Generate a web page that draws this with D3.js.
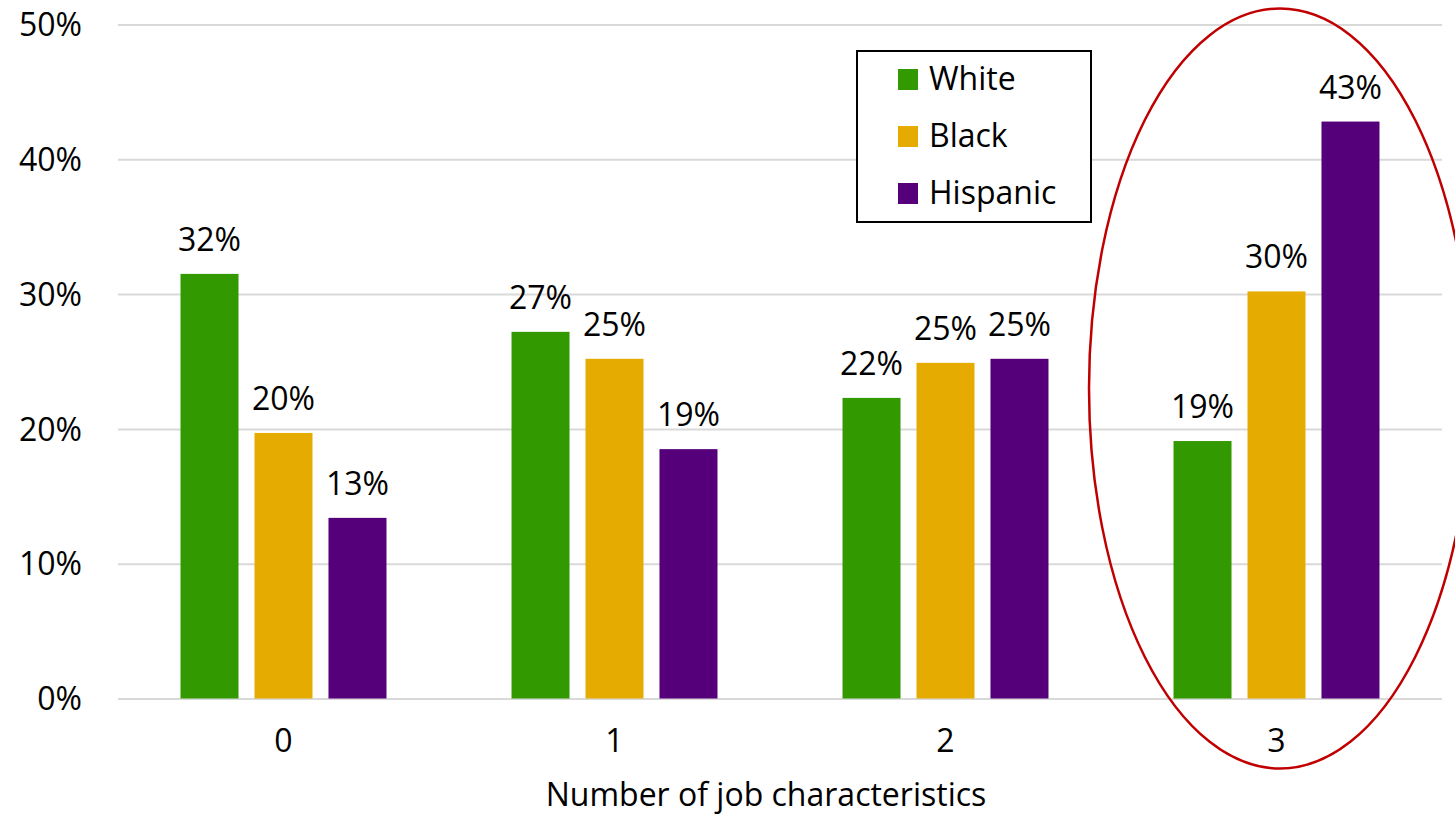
<!DOCTYPE html>
<html>
<head>
<meta charset="utf-8">
<script src="https://cdn.jsdelivr.net/npm/d3@7"></script>
<style>
  html, body { margin: 0; padding: 0; background: #ffffff; }
  svg { display: block; }
  text { font-family: "Open Sans", "Noto Sans", sans-serif; fill: #000; }
</style>
</head>
<body>
<svg id="chart" width="1455" height="816"></svg>
<script>
const categories = ["0", "1", "2", "3"];
const seriesNames = ["White", "Black", "Hispanic"];
const whiteValues = [31.5, 27.2, 22.3, 19.1];
const blackValues = [19.7, 25.2, 24.9, 30.2];
const hispanicValues = [13.4, 18.5, 25.2, 42.8];
const seriesColors = ["#339900", "#E6AB00", "#55007A"];
const yTicks = [0, 10, 20, 30, 40, 50];
const xTitle = "Number of job characteristics";

const seriesValues = [whiteValues, blackValues, hispanicValues];
const data = categories.map((c, i) => ({
  cat: c,
  vals: seriesNames.map((s, j) => ({ series: s, value: seriesValues[j][i], color: seriesColors[j] }))
}));

const FS = 32;
const svg = d3.select("#chart");
const plotLeft = 118, plotRight = 1442, plotTop = 24.5, plotBottom = 698.5;

const x0 = d3.scaleBand().domain(categories).range([plotLeft, plotRight]).paddingInner(0).paddingOuter(0);
const x1 = d3.scaleBand().domain(seriesNames).range([0, x0.bandwidth()]).paddingInner(0.216).paddingOuter(0.845);
const y = d3.scaleLinear().domain([0, 50]).range([plotBottom, plotTop]);

// gridlines
const yAxis = d3.axisLeft(y).tickValues(yTicks).tickSize(-(plotRight - plotLeft)).tickFormat(d => d + "%").tickPadding(36);
const gy = svg.append("g").attr("transform", `translate(${plotLeft},0)`).call(yAxis);
gy.select(".domain").remove();
gy.selectAll(".tick line").attr("stroke", "#d9d9d9").attr("stroke-width", 2);
gy.selectAll(".tick text").attr("font-size", FS).attr("font-family", "Open Sans").attr("fill", "#000").attr("dy", "0.35em");

// x axis labels
const xAxis = d3.axisBottom(x0).tickSize(0).tickPadding(31);
const gx = svg.append("g").attr("transform", `translate(0,${plotBottom})`).call(xAxis);
gx.select(".domain").remove();
gx.selectAll(".tick text").attr("font-size", FS).attr("font-family", "Open Sans").attr("fill", "#000");

// bars
const groups = svg.append("g").selectAll("g").data(data).join("g")
  .attr("transform", d => `translate(${x0(d.cat)},0)`);
groups.selectAll("rect").data(d => d.vals).join("rect")
  .attr("x", d => x1(d.series))
  .attr("width", x1.bandwidth())
  .attr("y", d => y(d.value))
  .attr("height", d => y(0) - y(d.value))
  .attr("fill", d => d.color);
groups.selectAll("text.lbl").data(d => d.vals).join("text")
  .attr("class", "lbl")
  .attr("x", d => x1(d.series) + x1.bandwidth() / 2)
  .attr("y", d => y(d.value) - 23)
  .attr("text-anchor", "middle")
  .attr("font-size", FS)
  .text(d => Math.round(d.value) + "%");

// x title
svg.append("text").attr("x", 766).attr("y", 806).attr("text-anchor", "middle")
  .attr("font-size", FS).text(xTitle);

// legend
const lg = svg.append("g");
lg.append("rect").attr("x", 857).attr("y", 51).attr("width", 234).attr("height", 171)
  .attr("fill", "#fff").attr("stroke", "#000").attr("stroke-width", 2);
const items = lg.selectAll("g.item").data(seriesNames).join("g").attr("class", "item")
  .attr("transform", (d, i) => `translate(898,${79 + i * 57})`);
items.append("rect").attr("x", 0).attr("y", -10).attr("width", 20).attr("height", 21)
  .attr("fill", (d, i) => seriesColors[i]);
items.append("text").attr("x", 31).attr("y", 0).attr("dy", "0.35em").attr("font-size", FS).text(d => d);

// highlight ellipse
svg.append("ellipse").attr("cx", 1280).attr("cy", 388.5).attr("rx", 191).attr("ry", 380)
  .attr("fill", "none").attr("stroke", "#C00000").attr("stroke-width", 2.5);
</script>
</body>
</html>
